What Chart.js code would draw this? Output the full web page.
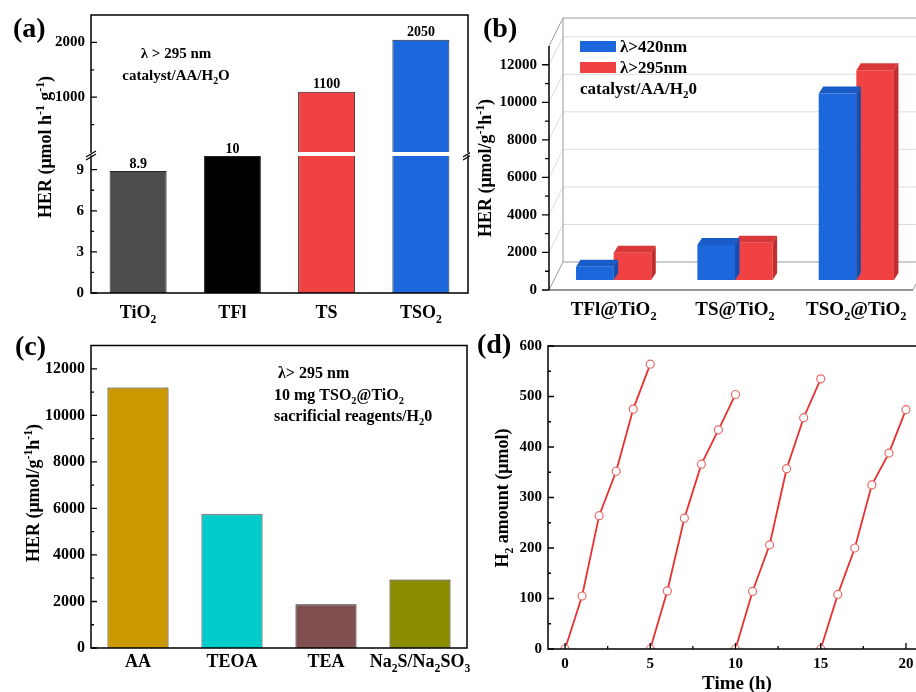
<!DOCTYPE html>
<html>
<head>
<meta charset="utf-8">
<script src="https://cdn.jsdelivr.net/npm/chart.js@4.4.1/dist/chart.umd.min.js"></script>
<style>
  body { margin: 0; background: #fff; }
  #fig { position: relative; width: 916px; height: 692px; overflow: hidden; background: #fff; }
  canvas { position: absolute; }
</style>
</head>
<body>
<div id="fig">
  <canvas id="aHigh" width="470" height="330" style="left:0;top:0"></canvas>
  <canvas id="aLow" width="470" height="330" style="left:0;top:0"></canvas>
  <canvas id="b" width="450" height="330" style="left:470px;top:0"></canvas>
  <canvas id="c" width="470" height="362" style="left:0;top:330px"></canvas>
  <canvas id="d" width="461" height="362" style="left:470px;top:330px"></canvas>
</div>
<script>
// (a) HER of the single catalysts, λ > 295 nm (broken axis)
const aCategories = ['TiO_{2}', 'TFl', 'TS', 'TSO_{2}'];
const aHER = [8.9, 10, 1100, 2050];
const aLowTicks = [0, 3, 6, 9];
const aHighTicks = [0, 1000, 2000];
const aBreak = 10;

// (b) composites under two light ranges
const bCategories = ['TFl@TiO_{2}', 'TS@TiO_{2}', 'TSO_{2}@TiO_{2}'];
const bSeries = ['λ>420nm', 'λ>295nm'];
const bVisible = [1240, 2400, 10470];
const bUV = [1990, 2520, 11710];
const bTicks = [0, 2000, 4000, 6000, 8000, 10000, 12000];

// (c) sacrificial reagents
const cCategories = ['AA', 'TEOA', 'TEA', 'Na_{2}S/Na_{2}SO_{3}'];
const cHER = [11200, 5750, 1880, 2950];
const cTicks = [0, 2000, 4000, 6000, 8000, 10000, 12000];

// (d) cycling test, 4 runs of 5 h
const dTime = [[0, 1, 2, 3, 4, 5], [5, 6, 7, 8, 9, 10], [10, 11, 12, 13, 14, 15], [15, 16, 17, 18, 19, 20]];
const dH2 = [[0, 105, 264, 352, 475, 564], [0, 115, 259, 366, 434, 504], [0, 114, 206, 357, 458, 535], [0, 108, 200, 325, 388, 474]];
const dTimeTicks = [0, 5, 10, 15, 20];
const dH2Ticks = [0, 100, 200, 300, 400, 500, 600];

const SERIF = '"Liberation Serif", "Times New Roman", Times, serif';
Chart.defaults.font.family = SERIF;
Chart.defaults.font.weight = 'bold';
Chart.defaults.color = '#000';
Chart.defaults.animation = false;
Chart.defaults.plugins.legend.display = false;
Chart.defaults.plugins.tooltip.enabled = false;

// text with _{sub} and ^{sup}, y = baseline
function rich(ctx, str, x, y, size, align) {
  const parts = [];
  str.replace(/([_^])\{([^}]*)\}|([^_^]+)/g, (m, k, inner, plain) => {
    parts.push(plain !== undefined ? [plain, 0] : [inner, k === '_' ? 1 : -1]);
  });
  const fs = s => `bold ${s}px ${SERIF}`;
  let w = 0;
  parts.forEach(p => {
    ctx.font = fs(p[1] ? size * 0.65 : size);
    p.push(ctx.measureText(p[0]).width);
    w += p[2];
  });
  let cx = align === 'center' ? x - w / 2 : align === 'right' ? x - w : x;
  ctx.save();
  ctx.textAlign = 'left';
  ctx.textBaseline = 'alphabetic';
  ctx.fillStyle = '#000';
  parts.forEach(p => {
    ctx.font = fs(p[1] ? size * 0.65 : size);
    const dy = p[1] === 1 ? size * 0.25 : p[1] === -1 ? -size * 0.42 : 0;
    ctx.fillText(p[0], cx, y + dy);
    cx += p[2];
  });
  ctx.restore();
}

// rotated title, (x, y) = centre
function richV(ctx, str, x, y, size) {
  ctx.save();
  ctx.translate(x, y);
  ctx.rotate(-Math.PI / 2);
  rich(ctx, str, 0, size * 0.35, size, 'center');
  ctx.restore();
}

// major + minor tick marks
function marks(ctx, scale, pos, dir, len, minorLen, vertical) {
  const vals = scale.ticks.map(t => t.value);
  const step = vals[1] - vals[0];
  ctx.save();
  ctx.strokeStyle = '#000';
  ctx.lineWidth = 1.3;
  ctx.beginPath();
  const seg = (v, l) => {
    const p = scale.getPixelForValue(v);
    if (vertical) { ctx.moveTo(pos, p); ctx.lineTo(pos + dir * l, p); }
    else { ctx.moveTo(p, pos); ctx.lineTo(p, pos + dir * l); }
  };
  scale.ticks.forEach(t => { if (t.label !== '') seg(t.value, len); });
  for (let v = vals[0] - step / 2; v < scale.max; v += step) {
    if (v > scale.min) seg(v, minorLen);
  }
  ctx.stroke();
  ctx.restore();
}

function frame(ctx, a, sides) {
  ctx.save();
  ctx.strokeStyle = '#000';
  ctx.lineWidth = 1.5;
  ctx.lineCap = 'square';
  ctx.beginPath();
  if (sides.includes('t')) { ctx.moveTo(a.left, a.top); ctx.lineTo(a.right, a.top); }
  if (sides.includes('b')) { ctx.moveTo(a.left, a.bottom); ctx.lineTo(a.right, a.bottom); }
  if (sides.includes('l')) { ctx.moveTo(a.left, a.top); ctx.lineTo(a.left, a.bottom); }
  if (sides.includes('r')) { ctx.moveTo(a.right, a.top); ctx.lineTo(a.right, a.bottom); }
  ctx.stroke();
  ctx.restore();
}

function barValues(chart, size, gap) {
  const meta = chart.getDatasetMeta(0);
  const data = chart.data.datasets[0].data;
  meta.data.forEach((bar, i) => {
    if (data[i] == null || bar.y < chart.chartArea.top - 1) return;
    rich(chart.ctx, String(data[i]), bar.x, bar.y - gap, 14, 'center');
  });
}

function catLabels(chart, cats, y, size) {
  const x = chart.scales.x;
  cats.forEach((c, i) => rich(chart.ctx, c, x.getPixelForValue(i), y, size, 'center'));
}

function yAxis(min, max, ticks, width, padding, size, cb) {
  return {
    min, max,
    afterBuildTicks: s => { s.ticks = ticks.map(v => ({ value: v })); },
    afterFit: s => { s.width = width; },
    grid: { display: false, drawTicks: false },
    border: { display: false },
    ticks: { padding, font: { size }, callback: cb || (v => v) }
  };
}

function catAxis(height) {
  return {
    grid: { display: false, drawTicks: false },
    border: { display: false },
    ticks: { display: false },
    afterFit: s => { s.height = height; }
  };
}

// ---------- (a) ----------
const aColors = ['#4d4d4d', '#000000', '#f04242', '#1c67dc'];

new Chart(document.getElementById('aHigh'), {
  type: 'bar',
  data: {
    labels: aCategories,
    datasets: [{
      data: aHER.map(v => (v > aBreak ? v : null)),
      backgroundColor: aColors, borderColor: '#222', borderWidth: 1,
      barPercentage: 0.605, categoryPercentage: 1, clip: 0
    }]
  },
  options: {
    responsive: false,
    layout: { padding: { top: 15, bottom: 178, right: 2, left: 0 } },
    scales: {
      x: { display: false },
      y: yAxis(0, 2500, aHighTicks, 91, 6, 15, v => (v === 0 ? '' : v))
    }
  },
  plugins: [{
    id: 'aHighDeco',
    afterDraw(chart) {
      const ctx = chart.ctx, a = chart.chartArea;
      frame(ctx, a, 'tlr');
      marks(ctx, chart.scales.y, a.left, 1, 6, 3, true);
      barValues(chart, 14, 4);
      rich(ctx, '(a)', 13, 37, 28, 'left');
      rich(ctx, 'λ > 295 nm', 176, 58, 15, 'center');
      rich(ctx, 'catalyst/AA/H_{2}O', 176, 80, 15, 'center');
      richV(ctx, 'HER (μmol h^{-1} g^{-1})', 45, 147, 18);
    }
  }]
});

new Chart(document.getElementById('aLow'), {
  type: 'bar',
  data: {
    labels: aCategories,
    datasets: [{
      data: aHER,
      backgroundColor: aColors, borderColor: '#222', borderWidth: 1,
      barPercentage: 0.605, categoryPercentage: 1, clip: 0
    }]
  },
  options: {
    responsive: false,
    layout: { padding: { top: 156, bottom: 0, right: 2, left: 0 } },
    scales: {
      x: catAxis(37),
      y: yAxis(0, aBreak, aLowTicks, 91, 7, 15)
    }
  },
  plugins: [{
    id: 'aLowDeco',
    afterDraw(chart) {
      const ctx = chart.ctx, a = chart.chartArea;
      frame(ctx, a, 'blr');
      marks(ctx, chart.scales.y, a.left, 1, 6, 3, true);
      barValues(chart, 14, 3);
      catLabels(chart, aCategories, 318, 18);
      // axis break marks
      ctx.save();
      ctx.strokeStyle = '#000';
      ctx.lineWidth = 1.3;
      ctx.beginPath();
      [a.left, a.right].forEach(x0 => {
        ctx.moveTo(x0 - 5, a.top + 1); ctx.lineTo(x0 + 5, a.top - 5);
        ctx.moveTo(x0 - 5, a.top + 4); ctx.lineTo(x0 + 5, a.top - 2);
      });
      ctx.stroke();
      ctx.restore();
    }
  }]
});

// ---------- (b) ----------
const bFloorBase = 530;
const bFront = ['#1c67dc', '#f04242'];
const bTop = ['#195cc9', '#d93838'];
const bSide = ['#144fb0', '#c42d2d'];
const bDepth = { dx: 4.5, dy: -7 };

new Chart(document.getElementById('b'), {
  type: 'bar',
  data: {
    labels: bCategories,
    datasets: [
      { label: bSeries[0], data: bVisible, backgroundColor: bFront[0], base: bFloorBase },
      { label: bSeries[1], data: bUV, backgroundColor: bFront[1], base: bFloorBase }
    ]
  },
  options: {
    responsive: false,
    categoryPercentage: 0.62,
    barPercentage: 1,
    layout: { padding: { top: 46, bottom: 0, right: 3, left: 0 } },
    scales: {
      x: catAxis(40),
      y: yAxis(0, 13000, bTicks, 83, 16, 15)
    }
  },
  plugins: [{
    id: 'bWalls',
    beforeDatasetsDraw(chart) {
      const ctx = chart.ctx, y = chart.scales.y, a = chart.chartArea;
      const ax = a.left - 4, dx = 14, dy = -28, right = chart.width + 20, fr = a.right - 4;
      const y0 = y.getPixelForValue(0), yT = y.getPixelForValue(y.max);
      ctx.save();
      ctx.lineWidth = 1;
      ctx.strokeStyle = '#dcdcdc';
      ctx.beginPath();
      y.ticks.forEach(t => {
        if (!t.value) return;
        const p = y.getPixelForValue(t.value);
        ctx.moveTo(ax, p); ctx.lineTo(ax + dx, p + dy); ctx.lineTo(right, p + dy);
      });
      ctx.stroke();
      ctx.strokeStyle = '#9a9a9a';
      ctx.beginPath();
      ctx.moveTo(ax, yT); ctx.lineTo(ax + dx, yT + dy); ctx.lineTo(right, yT + dy);
      ctx.moveTo(ax + dx, yT + dy); ctx.lineTo(ax + dx, y0 + dy); ctx.lineTo(right, y0 + dy);
      ctx.moveTo(ax, y0); ctx.lineTo(ax + dx, y0 + dy);
      ctx.moveTo(fr, y0); ctx.lineTo(fr + dx, y0 + dy);
      ctx.stroke();
      ctx.strokeStyle = '#333';
      ctx.beginPath();
      ctx.moveTo(ax, y0); ctx.lineTo(fr, y0);
      ctx.stroke();
      ctx.restore();
    },
    afterDatasetDraw(chart, args) {
      const ctx = chart.ctx, i = args.index, { dx, dy } = bDepth;
      ctx.save();
      args.meta.data.forEach(bar => {
        const { x, y, base, width } = bar.getProps(['x', 'y', 'base', 'width'], true);
        const l = x - width / 2, r = x + width / 2;
        ctx.fillStyle = bTop[i];
        ctx.beginPath();
        ctx.moveTo(l, y); ctx.lineTo(r, y); ctx.lineTo(r + dx, y + dy); ctx.lineTo(l + dx, y + dy);
        ctx.closePath(); ctx.fill();
        ctx.fillStyle = bSide[i];
        ctx.beginPath();
        ctx.moveTo(r, y); ctx.lineTo(r + dx, y + dy); ctx.lineTo(r + dx, base + dy); ctx.lineTo(r, base);
        ctx.closePath(); ctx.fill();
      });
      ctx.restore();
    },
    afterDraw(chart) {
      const ctx = chart.ctx, a = chart.chartArea, y = chart.scales.y;
      const ax = a.left - 4;
      ctx.save();
      ctx.strokeStyle = '#000';
      ctx.lineWidth = 1.5;
      ctx.beginPath();
      ctx.moveTo(ax, y.getPixelForValue(y.max)); ctx.lineTo(ax, y.getPixelForValue(0));
      ctx.stroke();
      ctx.restore();
      marks(ctx, y, ax, -1, 7, 4, true);
      catLabels(chart, bCategories, 315, 19);
      // legend
      chart.data.datasets.forEach((ds, k) => {
        ctx.fillStyle = ds.backgroundColor;
        ctx.fillRect(110, 41 + k * 21, 36, 11);
        rich(ctx, ds.label, 150, 52 + k * 21, 17, 'left');
      });
      rich(ctx, 'catalyst/AA/H_{2}0', 110, 94, 17, 'left');
      rich(ctx, '(b)', 13, 37, 28, 'left');
      richV(ctx, 'HER (μmol/g^{-1}h^{-1})', 15, 168, 18);
    }
  }]
});

// ---------- (c) ----------
const cColors = ['#cc9900', '#00cccc', '#804f4f', '#8c8c00'];

new Chart(document.getElementById('c'), {
  type: 'bar',
  data: {
    labels: cCategories,
    datasets: [{
      data: cHER,
      backgroundColor: cColors, borderColor: '#222', borderWidth: 1,
      barPercentage: 0.65, categoryPercentage: 1, clip: 0
    }]
  },
  options: {
    responsive: false,
    layout: { padding: { top: 15, bottom: 0, right: 3, left: 0 } },
    scales: {
      x: catAxis(44),
      y: yAxis(0, 13000, cTicks, 91, 6, 16)
    }
  },
  plugins: [{
    id: 'cDeco',
    afterDraw(chart) {
      const ctx = chart.ctx, a = chart.chartArea;
      frame(ctx, a, 'tblr');
      marks(ctx, chart.scales.y, a.left, 1, 6, 3, true);
      catLabels(chart, cCategories, 337, 18);
      rich(ctx, 'λ> 295 nm', 278, 48, 16, 'left');
      rich(ctx, '10 mg TSO_{2}@TiO_{2}', 274, 70, 16, 'left');
      rich(ctx, 'sacrificial reagents/H_{2}0', 274, 91, 16, 'left');
      rich(ctx, '(c)', 15, 25, 28, 'left');
      richV(ctx, 'HER (μmol/g^{-1}h^{-1})', 33, 163, 18);
    }
  }]
});

// ---------- (d) ----------
new Chart(document.getElementById('d'), {
  type: 'scatter',
  data: {
    datasets: dTime.map((ts, k) => ({
      data: ts.map((t, j) => ({ x: t, y: dH2[k][j] })),
      showLine: true,
      borderColor: '#e8302f',
      borderWidth: 1.8,
      pointRadius: 4,
      pointBorderWidth: 1.2,
      pointBorderColor: '#e86a6a',
      pointBackgroundColor: '#ffffff',
      clip: 0
    }))
  },
  options: {
    responsive: false,
    layout: { padding: { top: 16, bottom: 0, right: 8, left: 0 } },
    scales: {
      x: {
        type: 'linear', min: -1, max: 21,
        afterBuildTicks: s => { s.ticks = dTimeTicks.map(v => ({ value: v })); },
        afterFit: s => { s.height = 43; },
        grid: { display: false, drawTicks: false },
        border: { display: false },
        ticks: { padding: 6, font: { size: 15 } }
      },
      y: yAxis(0, 600, dH2Ticks, 78, 6, 15)
    }
  },
  plugins: [{
    id: 'dDeco',
    afterDraw(chart) {
      const ctx = chart.ctx, a = chart.chartArea;
      frame(ctx, a, 'tblr');
      marks(ctx, chart.scales.y, a.left, 1, 6, 3, true);
      marks(ctx, chart.scales.x, a.bottom, -1, 6, 3, false);
      rich(ctx, '(d)', 7, 23, 28, 'left');
      richV(ctx, 'H_{2} amount (μmol)', 32, 168, 18);
      rich(ctx, 'Time (h)', 267, 359, 19, 'center');
    }
  }]
});
</script>
</body>
</html>
